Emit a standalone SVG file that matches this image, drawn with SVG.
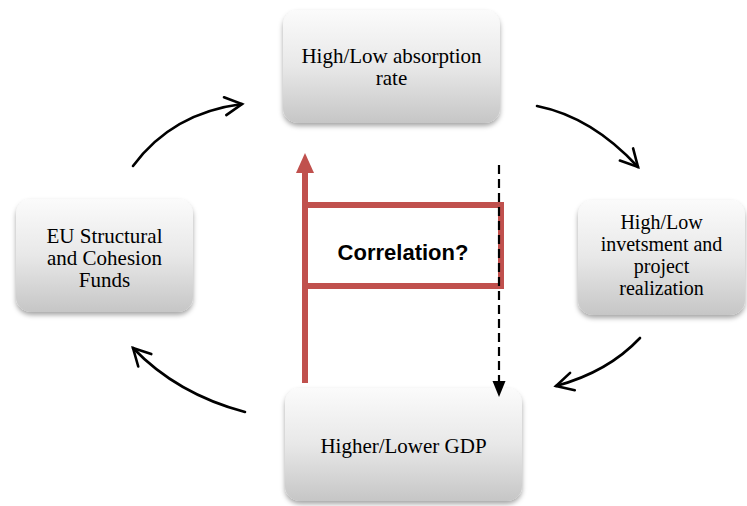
<svg xmlns="http://www.w3.org/2000/svg" width="747" height="506" viewBox="0 0 747 506">
<defs>
<linearGradient id="g" x1="0" y1="0" x2="0" y2="1">
<stop offset="0" stop-color="#fbfbfb"/>
<stop offset="0.5" stop-color="#e8e8e8"/>
<stop offset="1" stop-color="#c6c6c6"/>
</linearGradient>
<filter id="sh" x="-10%" y="-10%" width="125%" height="130%">
<feDropShadow dx="0" dy="3" stdDeviation="2.5" flood-color="#000" flood-opacity="0.35"/>
</filter>
<marker id="chev" markerUnits="userSpaceOnUse" viewBox="-20 -12 24 24" refX="0" refY="0" markerWidth="24" markerHeight="24" orient="auto">
<path d="M-17,-9 L0,0 L-17,9" fill="none" stroke="#000" stroke-width="2.6" stroke-linecap="round" stroke-linejoin="miter"/>
</marker>
</defs>
<style>
.box{fill:url(#g);filter:url(#sh);}
.t{font-family:"Liberation Serif","Times New Roman",serif;font-size:21px;fill:#000;text-anchor:middle;}
.t2{font-family:"Liberation Serif","Times New Roman",serif;font-size:20px;fill:#000;text-anchor:middle;}
.c{fill:none;stroke:#000;stroke-width:2.6;stroke-linecap:round;}
.red{fill:none;stroke:#c0504d;stroke-width:6;}
</style>
<g id="connectors">
<path class="c" d="M133,166 Q172,113 242,104" marker-end="url(#chev)"/>
<path class="c" d="M537,106 Q592,117 638,167" marker-end="url(#chev)"/>
<path class="c" d="M640,338 Q608,372 556,386" marker-end="url(#chev)"/>
<path class="c" d="M245,412 Q177,394 133,348" marker-end="url(#chev)"/>
</g>
<g id="node-top">
<rect class="box" x="283" y="10" width="217" height="113" rx="15"/>
<text class="t" x="391.5" y="63">High/Low absorption</text>
<text class="t" x="391.5" y="85">rate</text>
</g>
<g id="node-left">
<rect class="box" x="16" y="199" width="177" height="113" rx="15"/>
<text class="t" x="104.5" y="243">EU Structural</text>
<text class="t" x="104.5" y="265">and Cohesion</text>
<text class="t" x="104.5" y="287">Funds</text>
</g>
<g id="node-right">
<rect class="box" x="578" y="200" width="167" height="115" rx="15"/>
<text class="t2" x="661.5" y="229">High/Low</text>
<text class="t2" x="661.5" y="251">invetsment and</text>
<text class="t2" x="661.5" y="273">project</text>
<text class="t2" x="661.5" y="295">realization</text>
</g>
<g id="node-bottom">
<rect class="box" x="285" y="388" width="237" height="113" rx="15"/>
<text class="t" x="403.5" y="453">Higher/Lower GDP</text>
</g>
<g id="correlation">
<line class="red" x1="305" y1="383" x2="305" y2="172"/>
<path d="M296,173 L305,153 L314,173 Z" fill="#c0504d"/>
<rect x="305" y="205" width="196" height="81" fill="#fff" stroke="#c0504d" stroke-width="6"/>
<text x="403" y="260" font-family="'Liberation Sans',Arial,sans-serif" font-weight="bold" font-size="22" text-anchor="middle" fill="#000">Correlation?</text>
<line x1="499" y1="165" x2="499" y2="382" stroke="#000" stroke-width="2.2" stroke-dasharray="9,5"/>
<path d="M492.5,381 L499,397 L505.5,381 Z" fill="#000"/>
</g>
</svg>
